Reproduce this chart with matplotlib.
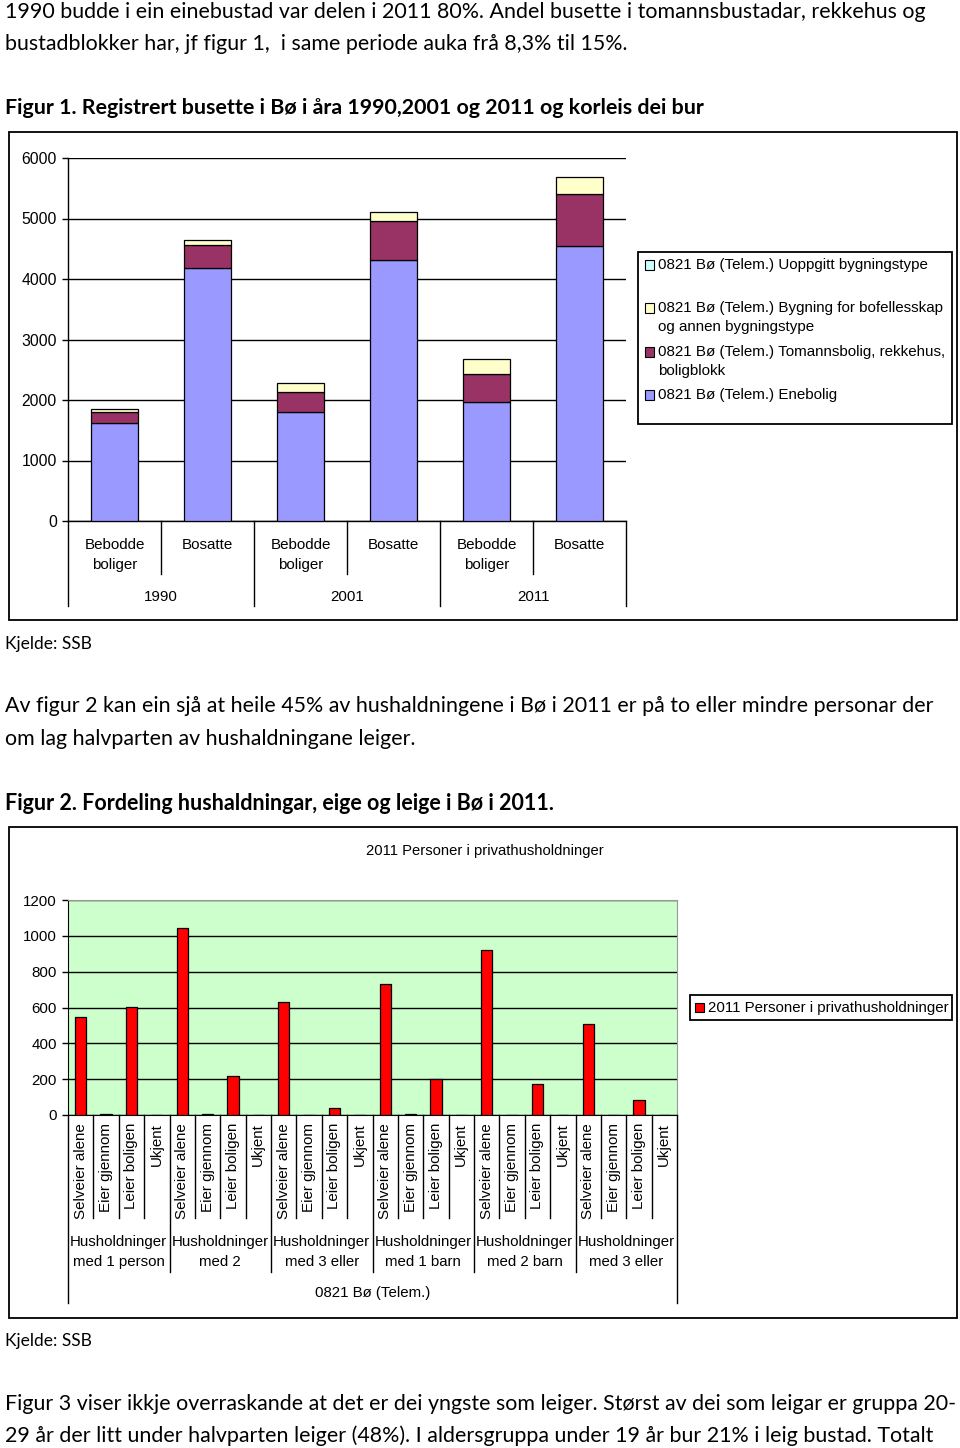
import matplotlib
matplotlib.use("Agg")
import matplotlib.pyplot as plt
from matplotlib.patches import Rectangle
from matplotlib.lines import Line2D
import numpy as np

# ---------------- data ----------------
fig1_title = "Figur 1. Registrert busette i Bø i åra 1990,2001 og 2011 og korleis dei bur"
fig1_cats = ["Bebodde\nboliger", "Bosatte", "Bebodde\nboliger", "Bosatte", "Bebodde\nboliger", "Bosatte"]
fig1_years = ["1990", "2001", "2011"]
enebolig = [1615, 4180, 1808, 4312, 1962, 4542]
tomannsbolig = [192, 380, 324, 641, 476, 855]
bofellesskap = [40, 90, 142, 154, 241, 291]
uoppgitt = [0, 0, 0, 0, 0, 0]
fig1_series_labels = [
    "0821 Bø (Telem.) Uoppgitt bygningstype",
    "0821 Bø (Telem.) Bygning for bofellesskap\nog annen bygningstype",
    "0821 Bø (Telem.) Tomannsbolig, rekkehus,\nboligblokk",
    "0821 Bø (Telem.) Enebolig",
]
fig1_yticks = [0, 1000, 2000, 3000, 4000, 5000, 6000]

fig2_title = "Figur 2. Fordeling hushaldningar, eige og leige i Bø i 2011."
fig2_chart_title = "2011 Personer i privathusholdninger"
fig2_sub = ["Selveier alene", "Eier gjennom", "Leier boligen", "Ukjent"]
fig2_groups = ["Husholdninger\nmed 1 person", "Husholdninger\nmed 2", "Husholdninger\nmed 3 eller",
               "Husholdninger\nmed 1 barn", "Husholdninger\nmed 2 barn", "Husholdninger\nmed 3 eller"]
fig2_region = "0821 Bø (Telem.)"
fig2_values = [545, 4, 605, 0,
               1044, 4, 216, 0,
               631, 0, 39, 0,
               729, 4, 203, 0,
               919, 0, 171, 0,
               506, 0, 86, 0]
fig2_yticks = [0, 200, 400, 600, 800, 1000, 1200]

para1 = ["1990 budde i ein einebustad var delen i 2011 80%. Andel busette i tomannsbustadar, rekkehus og",
         "bustadblokker har, jf figur 1,  i same periode auka frå 8,3% til 15%."]
para2 = ["Av figur 2 kan ein sjå at heile 45% av hushaldningene i Bø i 2011 er på to eller mindre personar der",
         "om lag halvparten av hushaldningane leiger."]
para3 = ["Figur 3 viser ikkje overraskande at det er dei yngste som leiger. Størst av dei som leigar er gruppa 20-",
         "29 år der litt under halvparten leiger (48%). I aldersgruppa under 19 år bur 21% i leig bustad. Totalt"]
source = "Kjelde: SSB"

# ---------------- layout helpers ----------------
W, H = 960, 1448
fig = plt.figure(figsize=(W / 100, H / 100), dpi=100)
fig.patch.set_facecolor("white")

def fx(x):
    return x / W

def fy(y):
    return 1 - y / H

def ax_rect(x0, y0, x1, y1):
    return [fx(x0), fy(y1), fx(x1) - fx(x0), fy(y0) - fy(y1)]

BODY = "Lato"
CHART = "Liberation Sans"
BODY_SIZE = 15.4

def body_text(x, y, s, size=BODY_SIZE, bold=False):
    fig.text(fx(x), fy(y), s, fontsize=size, family=BODY,
             fontweight="bold" if bold else "normal", ha="left", va="center",
             color="black")

def frame(x0, y0, x1, y1):
    fig.add_artist(Rectangle((fx(x0), fy(y1)), fx(x1) - fx(x0), fy(y0) - fy(y1),
                             transform=fig.transFigure, fill=False,
                             edgecolor="black", linewidth=1.3))

def fline(x0, y0, x1, y1, lw=1.0, color="black"):
    fig.add_artist(Line2D([fx(x0), fx(x1)], [fy(y0), fy(y1)],
                          transform=fig.transFigure, color=color, linewidth=lw))

# ---------------- body text ----------------
body_text(5, 12, para1[0])
body_text(5, 44, para1[1])
body_text(5, 108, fig1_title, size=15.4, bold=True)
body_text(5, 644, source, size=12.5)
body_text(5, 706, para2[0])
body_text(5, 739, para2[1])
body_text(5, 804, fig2_title, size=15.5, bold=True)
body_text(5, 1341, source, size=12.5)
body_text(5, 1404, para3[0])
body_text(5, 1436, para3[1])

# ---------------- figure 1 ----------------
frame(9, 132, 957, 620)
ax1 = fig.add_axes(ax_rect(68, 158, 626, 521))
x = np.arange(len(fig1_cats))
col_ene, col_tom, col_bof, col_uop = "#9999FF", "#993366", "#FFFFCC", "#CCFFFF"
bw = 0.5
ax1.bar(x, enebolig, bw, color=col_ene, edgecolor="black", linewidth=0.9, zorder=3)
b2 = np.array(enebolig)
ax1.bar(x, tomannsbolig, bw, bottom=b2, color=col_tom, edgecolor="black", linewidth=0.9, zorder=3)
b3 = b2 + np.array(tomannsbolig)
ax1.bar(x, bofellesskap, bw, bottom=b3, color=col_bof, edgecolor="black", linewidth=0.9, zorder=3)
b4 = b3 + np.array(bofellesskap)
ax1.bar(x, uoppgitt, bw, bottom=b4, color=col_uop, edgecolor="black", linewidth=0.0, zorder=3)
ax1.set_xlim(-0.5, len(fig1_cats) - 0.5)
ax1.set_ylim(0, 6000)
ax1.set_yticks(fig1_yticks)
ax1.set_yticklabels([str(v) for v in fig1_yticks], family=CHART, fontsize=11.3)
ax1.yaxis.grid(True, color="black", linewidth=1.0, zorder=0)
ax1.set_axisbelow(True)
ax1.tick_params(axis="y", length=4, width=1, pad=4, direction="out")
ax1.set_xticks([])
for s in ["top", "right"]:
    ax1.spines[s].set_visible(False)
ax1.spines["left"].set_linewidth(1.0)
ax1.spines["bottom"].set_linewidth(1.0)

# category axis (two levels)
cw = (626 - 68) / len(fig1_cats)
for k in range(len(fig1_cats) + 1):
    xx = 68 + k * cw
    fline(xx, 521, xx, 606 if k % 2 == 0 else 574)
for k, lab in enumerate(fig1_cats):
    cx = 68 + (k + 0.5) * cw
    lines = lab.split("\n")
    for j, ln in enumerate(lines):
        fig.text(fx(cx), fy(545 + j * 20), ln, family=CHART, fontsize=10.9, ha="center", va="center")
for k, yr in enumerate(fig1_years):
    cx = 68 + (2 * k + 1) * cw
    fig.text(fx(cx), fy(597), yr, family=CHART, fontsize=10.9, ha="center", va="center")

# legend (figure 1)
frame(638, 252, 952, 424)
leg_entries = [
    (col_uop, [265]),
    (col_bof, [308, 327]),
    (col_tom, [352, 371]),
    (col_ene, [395]),
]
for (col, ys), lab in zip(leg_entries, fig1_series_labels):
    fig.add_artist(Rectangle((fx(645), fy(ys[0] + 4.5)), fx(9), 9 / H,
                             transform=fig.transFigure, facecolor=col,
                             edgecolor="black", linewidth=0.8))
    for yy, ln in zip(ys, lab.split("\n")):
        fig.text(fx(658), fy(yy), ln, family=CHART, fontsize=10.9, ha="left", va="center")

# ---------------- figure 2 ----------------
frame(9, 827, 957, 1318)
fig.text(fx(485), fy(851), fig2_chart_title, family=CHART, fontsize=10.6, ha="center", va="center")
ax2 = fig.add_axes(ax_rect(68, 900, 677, 1115))
ax2.set_facecolor("#CCFFCC")
n2 = len(fig2_values)
x2 = np.arange(n2)
ax2.bar(x2, fig2_values, 0.44, color="#FF0000", edgecolor="black", linewidth=0.9, zorder=3)
ax2.set_xlim(-0.5, n2 - 0.5)
ax2.set_ylim(0, 1200)
ax2.set_yticks(fig2_yticks)
ax2.set_yticklabels([str(v) for v in fig2_yticks], family=CHART, fontsize=10.9)
ax2.yaxis.grid(True, color="black", linewidth=1.0, zorder=0)
ax2.set_axisbelow(True)
ax2.tick_params(axis="y", length=4, width=1, pad=4, direction="out")
ax2.set_xticks([])
ax2.spines["top"].set_color("#999999")
ax2.spines["right"].set_color("#999999")
ax2.spines["left"].set_color("black")
ax2.spines["bottom"].set_color("black")

cw2 = (677 - 68) / n2
for k in range(n2 + 1):
    xx = 68 + k * cw2
    if k == 0 or k == n2:
        yend = 1303
    elif k % 4 == 0:
        yend = 1272
    else:
        yend = 1218
    fline(xx, 1115, xx, yend)
for k in range(n2):
    cx = 68 + (k + 0.5) * cw2
    fig.text(fx(cx), fy(1123), fig2_sub[k % 4], family=CHART, fontsize=10.9,
             rotation=90, ha="center", va="top")
for g, lab in enumerate(fig2_groups):
    cx = 68 + (4 * g + 2) * cw2
    for j, ln in enumerate(lab.split("\n")):
        fig.text(fx(cx), fy(1242 + j * 20), ln, family=CHART, fontsize=10.8, ha="center", va="center")
fig.text(fx((68 + 677) / 2), fy(1293), fig2_region, family=CHART, fontsize=10.8, ha="center", va="center")

# legend (figure 2)
frame(690, 995, 952, 1020)
fig.add_artist(Rectangle((fx(695), fy(1012)), fx(9), 9 / H,
                         transform=fig.transFigure, facecolor="#FF0000",
                         edgecolor="black", linewidth=0.8))
fig.text(fx(708), fy(1008), fig2_chart_title, family=CHART, fontsize=10.8, ha="left", va="center")

fig.savefig("out.png", dpi=100)
